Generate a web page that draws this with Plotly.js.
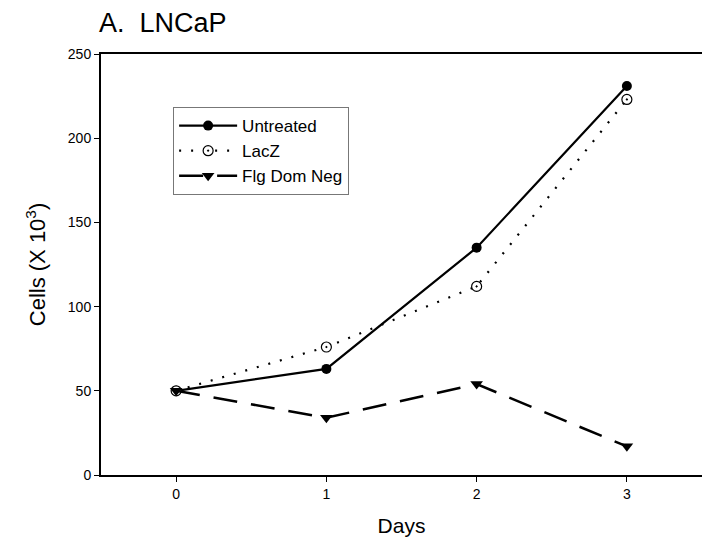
<!DOCTYPE html>
<html>
<head>
<meta charset="utf-8">
<script src="https://cdn.plot.ly/plotly-3.0.1.min.js"></script>
<style>html,body{margin:0;padding:0;background:#fff;}#chart{width:702px;height:545px;}</style>
</head>
<body>
<div id="chart"></div>
<script>
var days = [0, 1, 2, 3];
var untreated = [50, 63, 135, 231];
var lacZ = [50, 76, 112, 223];
var flgDomNeg = [50, 34, 54, 17];
var seriesNames = ["Untreated", "LacZ", "Flg Dom Neg"];
var yTicks = [0, 50, 100, 150, 200, 250];
var xTicks = [0, 1, 2, 3];

var traces = [
  {x: days, y: untreated, name: seriesNames[0], mode: "lines+markers",
   line: {color: "#000", width: 2.2},
   marker: {symbol: "circle", size: 10, color: "#000"}},
  {x: days, y: lacZ, name: seriesNames[1], mode: "lines+markers",
   line: {color: "#000", width: 2.2, dash: "2px,10px"},
   marker: {symbol: "circle-dot", size: 10, color: "#fff", line: {color: "#000", width: 1.2}}},
  {x: days, y: flgDomNeg, name: seriesNames[2], mode: "lines+markers",
   line: {color: "#000", width: 2.5, dash: "24px,14px"},
   marker: {symbol: "triangle-down", size: 11, color: "#000"}}
];

var layout = {
  width: 702, height: 545,
  margin: {l: 101, r: 0, t: 54, b: 70},
  paper_bgcolor: "#fff", plot_bgcolor: "#fff",
  font: {family: "Liberation Sans, Arial, sans-serif", color: "#000"},
  title: {text: "A.  LNCaP", font: {size: 27, color: "#000"}, xref: "container", x: 99/702, xanchor: "left", yref: "container", y: 1 - 23/545, yanchor: "middle"},
  showlegend: true,
  legend: {x: 0.12, y: 0.874, xanchor: "left", yanchor: "top", bordercolor: "#777", borderwidth: 1, bgcolor: "rgba(255,255,255,0)", font: {size: 17}, tracegroupgap: 0, itemwidth: 58},
  xaxis: {range: [-0.5, 3.5], tickvals: xTicks, ticks: "outside", ticklen: 5, tickwidth: 1, tickcolor: "#000",
          showline: true, linecolor: "#000", linewidth: 2, mirror: true, showgrid: false, zeroline: false,
          tickfont: {size: 14}, title: {text: "Days", font: {size: 21}, standoff: 18}},
  yaxis: {range: [0, 250], tickvals: yTicks, ticks: "outside", ticklen: 5, tickwidth: 1, tickcolor: "#000",
          showline: true, linecolor: "#000", linewidth: 2, showgrid: false, zeroline: false,
          tickfont: {size: 14}, title: {text: "Cells (X 10<sup>3</sup>)", font: {size: 22}, standoff: 16}}
};

Plotly.newPlot("chart", traces, layout, {displayModeBar: false, staticPlot: true});
</script>
</body>
</html>
